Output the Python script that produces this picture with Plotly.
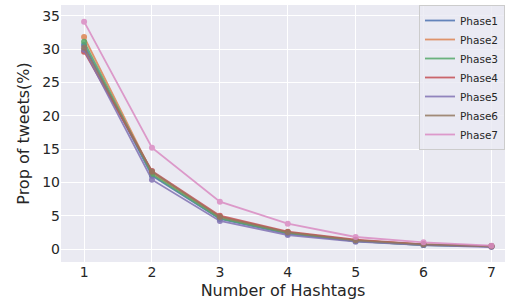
import plotly.graph_objects as go

hashtags = [1, 2, 3, 4, 5, 6, 7]
phase_names = ["Phase1", "Phase2", "Phase3", "Phase4", "Phase5", "Phase6", "Phase7"]
phase1 = [30.6, 11.0, 4.5, 2.3, 1.2, 0.6, 0.4]
phase2 = [31.8, 11.4, 4.8, 2.5, 1.3, 0.7, 0.4]
phase3 = [31.1, 11.2, 4.6, 2.4, 1.2, 0.6, 0.4]
phase4 = [29.6, 11.7, 5.0, 2.6, 1.4, 0.7, 0.4]
phase5 = [29.9, 10.4, 4.2, 2.1, 1.1, 0.6, 0.3]
phase6 = [30.2, 11.6, 4.8, 2.5, 1.3, 0.7, 0.4]
phase7 = [34.1, 15.2, 7.1, 3.8, 1.8, 1.0, 0.5]
series = [phase1, phase2, phase3, phase4, phase5, phase6, phase7]
colors = ["#4C72B0", "#DD8452", "#55A868", "#C44E52", "#8172B3", "#937860", "#DA8BC3"]

fig = go.Figure()
for name, vals, c in zip(phase_names, series, colors):
    fig.add_trace(go.Scatter(
        x=hashtags, y=vals, name=name, mode="lines+markers",
        line=dict(color=c, width=1.8), marker=dict(color=c, size=6),
        opacity=0.85, showlegend=False,
    ))
# legend entries (line only, like the reference legend)
for name, c in zip(phase_names, colors):
    fig.add_trace(go.Scatter(
        x=[None], y=[None], name=name, mode="lines",
        line=dict(color=c, width=1.8), opacity=0.85, showlegend=True,
    ))

fig.update_layout(
    width=505, height=307,
    margin=dict(l=61, r=0, t=5, b=45),
    paper_bgcolor="white", plot_bgcolor="#EAEAF2",
    font=dict(family="DejaVu Sans", color="#262626"),
    showlegend=True,
    legend=dict(
        x=1.0, y=1.0, xanchor="right", yanchor="top",
        bgcolor="rgba(234,234,242,0.8)", bordercolor="#CCCCCC", borderwidth=1,
        font=dict(size=10.5, color="#262626"), tracegroupgap=0,
        itemwidth=30,
    ),
)
fig.update_xaxes(
    range=[0.66, 7.2], tickvals=hashtags, showgrid=True, gridcolor="white",
    gridwidth=1, zeroline=False, showline=False, ticks="", automargin=False,
    tickfont=dict(size=14), title=dict(text="Number of Hashtags", font=dict(size=16), standoff=5),
)
fig.update_yaxes(
    range=[-1.95, 36.6], tickvals=[0, 5, 10, 15, 20, 25, 30, 35], showgrid=True,
    gridcolor="white", gridwidth=1, zeroline=False, showline=False, ticks="", automargin=False,
    tickfont=dict(size=14), title=dict(text="Prop of tweets(%)", font=dict(size=16), standoff=8),
)
fig.write_html("out.html", config={"displayModeBar": False},
               post_script="document.body.style.margin='0';")
